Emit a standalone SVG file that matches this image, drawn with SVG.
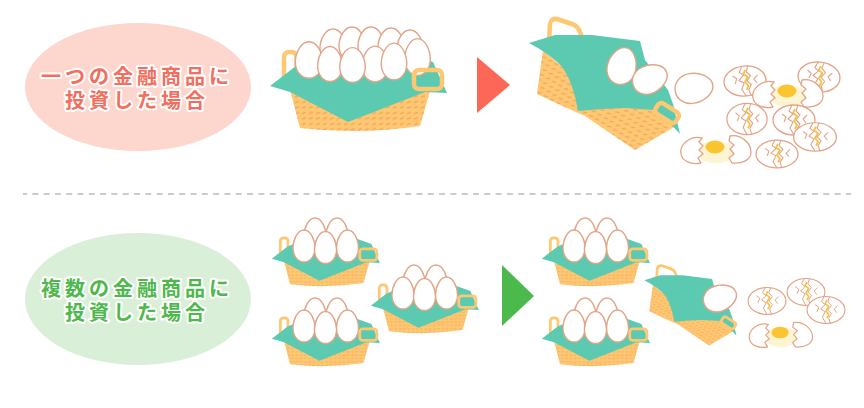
<svg xmlns="http://www.w3.org/2000/svg" xmlns:xlink="http://www.w3.org/1999/xlink" width="864" height="408" viewBox="0 0 864 408">
<style>
.handle{fill:none;stroke:#fec872;stroke-width:4.5;stroke-linejoin:round}
.body{fill:#fec872}
.cloth{fill:#5ccab0}
.shell{fill:#fff;stroke:#e2a487;stroke-width:1.3;stroke-linejoin:round}
.crack{fill:none;stroke:#e2a487;stroke-width:1.1;stroke-linejoin:round}
.yel{fill:none;stroke:#f5c244;stroke-width:1.8;stroke-linejoin:round}
.label{font-family:"Liberation Sans","Noto Sans CJK JP",sans-serif;font-weight:700;font-size:20px;letter-spacing:4px;text-anchor:middle;stroke:#fff;stroke-width:4;paint-order:stroke;stroke-linejoin:round}
</style>
<defs>
<pattern id="weave" patternUnits="userSpaceOnUse" width="7" height="5.5">
<path d="M1.2,3.5 L4.4,2.4" stroke="#f4a05e" stroke-width="1.2" stroke-linecap="round"/>
</pattern>
<pattern id="weave2" patternUnits="userSpaceOnUse" width="7" height="5.5" patternTransform="rotate(30)">
<path d="M1.2,3.5 L4.4,2.4" stroke="#f4a05e" stroke-width="1.2" stroke-linecap="round"/>
</pattern>
<path id="egg" d="M0,-17 C7.5,-17 13,-7 13,2 C13,11 7,17 0,17 C-7,17 -13,11 -13,2 C-13,-7 -7.5,-17 0,-17 Z" fill="#fff" stroke="#e2a487" stroke-width="1.4" vector-effect="non-scaling-stroke"/>
<g id="basketBack">
<rect class="handle" x="284" y="52" width="12.5" height="32" rx="5"/>
<path class="body" d="M289,86 L300,128 Q360,135 420,126 L432,84 Z"/>
<path fill="url(#weave)" d="M289,86 L300,128 Q360,135 420,126 L432,84 Z"/>
<path class="cloth" d="M270,86 L296,66 L330,52 L400,50 L433,62 L447,93 L425,92 L348,122 L290,92 Z"/>
</g>
<rect id="basketFront" class="handle" x="414" y="70" width="28" height="19" rx="5"/>
<g id="tiltBack">
<path class="handle" d="M549,42 L550,24 Q551,18 557,19 L572,24 Q578,26 580,32 L584,42"/>
<path class="body" d="M543,50 L537,94 Q562,106 585,116 L635,150 L676,126 L662,104 L600,100 Z"/>
<path fill="url(#weave2)" d="M543,50 L537,94 Q562,106 585,116 L635,150 L676,126 L662,104 L600,100 Z"/>
<path class="cloth" d="M529,43 L555,35 L592,35 L640,41 L645,60 L668,90 L673,104 L680,134 L668,121 L655,110 L625,108 L602,109 L578,111 Q574,85 563,68 Q552,55 529,43 Z"/>
</g>
<rect id="tiltFront" class="handle" x="-12" y="-6" width="24" height="12" rx="4" transform="translate(667,113) rotate(32)"/>
<g id="eggs5">
<use xlink:href="#egg" transform="translate(315,234) scale(0.85,0.94)"/>
<use xlink:href="#egg" transform="translate(337,234) scale(0.85,0.94)"/>
<use xlink:href="#egg" transform="translate(304,246) scale(0.85,0.94)"/>
<use xlink:href="#egg" transform="translate(347.5,246) scale(0.85,0.94)"/>
<use xlink:href="#egg" transform="translate(325.5,247.5) scale(0.85,0.94)"/>
</g>
<g id="cracked">
<ellipse rx="21" ry="15" fill="#fff" stroke="#e2a487" stroke-width="1.3"/>
<path class="yel" d="M1,-11 L-1,-7 L3,-4 L0,1 L3,5 L1,9"/>
<path class="crack" d="M-2,-15 L-5,-9 L-1,-6 L-6,-1 L-1,2 L-4,8 L0,15"/>
<path class="crack" d="M4,-15 L2,-9 L6,-5 L2,0 L6,4 L3,9 L5,15"/>
<path class="crack" d="M-12,-6 L-8,-3 L-10,2"/>
<path class="crack" d="M13,-5 L9,-1 L12,3"/>
</g>
<g id="fried">
<ellipse rx="19" ry="11" fill="#fdf5d2"/>
<ellipse cx="-1" cy="-5" rx="9.5" ry="6.5" fill="#fbc531"/>
<path class="shell" d="M-14,-14 C-26,-17 -37,-7 -35,2 C-34,9 -25,13 -15,11 L-18,6 L-13,2 L-17,-2 L-13,-6 L-17,-10 Z"/>
<path class="shell" d="M14,-16 C25,-18 35,-9 35,0 C35,8 26,12 16,11 L13,6 L18,2 L14,-3 L18,-7 L13,-11 Z"/>
</g>
</defs>

<rect width="864" height="408" fill="#fff"/>

<g id="label-single">
<ellipse cx="138" cy="87" rx="113" ry="64" fill="#fdd6cd"/>
<text class="label" fill="#f26e5e" x="137" y="84">一つの金融商品に<tspan x="137" dy="24">投資した場合</tspan></text>
</g>

<g id="label-multi">
<ellipse cx="138" cy="299" rx="113" ry="66" fill="#d9efd7"/>
<text class="label" fill="#4db84b" x="137" y="296">複数の金融商品に<tspan x="137" dy="24">投資した場合</tspan></text>
</g>

<g id="connectors">
<polygon points="477,57 510,85 477,113" fill="#fd6758"/>
<polygon points="502,265 534,296 502,326" fill="#4cb94c"/>
<line x1="23" y1="194" x2="851" y2="194" stroke="#cbcbcb" stroke-width="2" stroke-dasharray="6 5.3" stroke-dashoffset="2"/>
</g>

<g id="basket-single">
<use xlink:href="#basketBack"/>
<use xlink:href="#egg" transform="translate(333,46)"/>
<use xlink:href="#egg" transform="translate(352,44)"/>
<use xlink:href="#egg" transform="translate(371,44)"/>
<use xlink:href="#egg" transform="translate(391,45)"/>
<use xlink:href="#egg" transform="translate(410,47)"/>
<use xlink:href="#egg" transform="translate(375,64) scale(1,1.05)"/>
<use xlink:href="#egg" transform="translate(309,60) scale(1.05,1.07)"/>
<use xlink:href="#egg" transform="translate(330,64) scale(0.95,1.03)"/>
<use xlink:href="#egg" transform="translate(352.5,65) scale(0.98,1.02)"/>
<use xlink:href="#egg" transform="translate(417.5,57) scale(0.98,1.08)"/>
<use xlink:href="#egg" transform="translate(394,61.5) scale(0.98,1.08)"/>
<use xlink:href="#basketFront"/>
</g>

<g id="basket-spilled">
<use xlink:href="#tiltBack"/>
<use xlink:href="#egg" transform="translate(622,66) rotate(15) scale(1.1,1.1)"/>
<use xlink:href="#egg" transform="translate(650,79) rotate(65) scale(1.08,1.06)"/>
<use xlink:href="#tiltFront"/>
<use xlink:href="#egg" transform="translate(694,88) rotate(80) scale(1.15,1.12)"/>
</g>

<g id="broken-top">
<use xlink:href="#cracked" transform="translate(745,81) rotate(-5)"/>
<use xlink:href="#cracked" transform="translate(819,77) rotate(5)"/>
<use xlink:href="#fried" transform="translate(788,96)"/>
<use xlink:href="#cracked" transform="translate(747,119) scale(0.96,1.04)"/>
<use xlink:href="#cracked" transform="translate(794,120)"/>
<use xlink:href="#cracked" transform="translate(815,137) scale(1.02,0.95)"/>
<use xlink:href="#fried" transform="translate(716,152)"/>
<use xlink:href="#cracked" transform="translate(777,154) scale(1,0.93)"/>
</g>

<g id="basket-multi-1">
<g transform="translate(106.8,206.1) scale(0.611)"><use xlink:href="#basketBack"/></g>
<use xlink:href="#eggs5"/>
<g transform="translate(106.8,206.1) scale(0.611)"><use xlink:href="#basketFront"/></g>
</g>
<g id="basket-multi-2">
<g transform="translate(106.8,286.1) scale(0.611)"><use xlink:href="#basketBack"/></g>
<use xlink:href="#eggs5" transform="translate(0,80)"/>
<g transform="translate(106.8,286.1) scale(0.611)"><use xlink:href="#basketFront"/></g>
</g>
<g id="basket-multi-3">
<g transform="translate(205.8,253.1) scale(0.611)"><use xlink:href="#basketBack"/></g>
<use xlink:href="#eggs5" transform="translate(99,47)"/>
<g transform="translate(205.8,253.1) scale(0.611)"><use xlink:href="#basketFront"/></g>
</g>

<g id="basket-multi-4">
<g transform="translate(376.8,206.1) scale(0.611)"><use xlink:href="#basketBack"/></g>
<use xlink:href="#eggs5" transform="translate(270,0)"/>
<g transform="translate(376.8,206.1) scale(0.611)"><use xlink:href="#basketFront"/></g>
</g>
<g id="basket-multi-5">
<g transform="translate(376.8,286.1) scale(0.611)"><use xlink:href="#basketBack"/></g>
<use xlink:href="#eggs5" transform="translate(270,80)"/>
<g transform="translate(376.8,286.1) scale(0.611)"><use xlink:href="#basketFront"/></g>
</g>

<g id="basket-multi-spilled">
<g transform="translate(321.7,254) scale(0.61)"><use xlink:href="#tiltBack"/></g>
<use xlink:href="#egg" transform="translate(720,298) rotate(70)"/>
<g transform="translate(321.7,254) scale(0.61)"><use xlink:href="#tiltFront"/></g>
</g>

<g id="broken-bottom">
<use xlink:href="#cracked" transform="translate(767,301) scale(0.9)"/>
<use xlink:href="#cracked" transform="translate(806,292) scale(0.9)"/>
<use xlink:href="#cracked" transform="translate(826,310) scale(0.9)"/>
<use xlink:href="#fried" transform="translate(781,337) scale(0.9)"/>
</g>
</svg>
